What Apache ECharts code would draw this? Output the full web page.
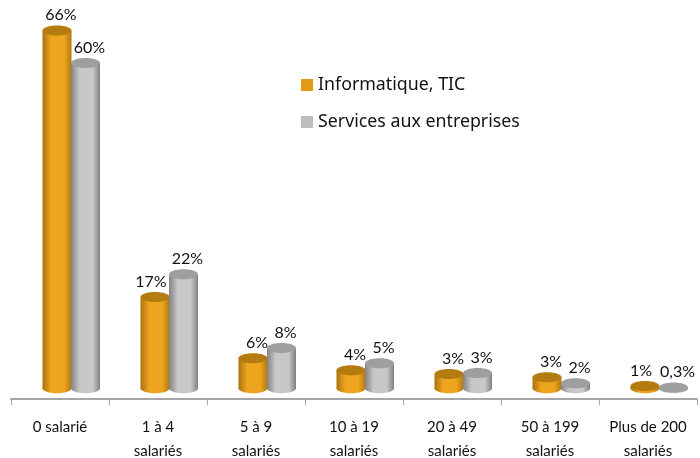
<!DOCTYPE html>
<html>
<head>
<meta charset="utf-8">
<style>
  html, body { margin: 0; padding: 0; background: #fff; }
  #chart { width: 700px; height: 458px; }
</style>
<script src="https://cdn.jsdelivr.net/npm/echarts@6/dist/echarts.min.js"></script>
</head>
<body>
<div id="chart"></div>
<script>
const categories = ['0 salarié', '1 à 4\nsalariés', '5 à 9\nsalariés', '10 à 19\nsalariés',
  '20 à 49\nsalariés', '50 à 199\nsalariés', 'Plus de 200\nsalariés'];
const seriesNames = ['Informatique, TIC', 'Services aux entreprises'];
// heights as drawn in the picture, the printed labels are rounded
const informatique = [66, 16.8, 5.5, 3.3, 2.6, 2, 0.4];
const services = [60, 21, 7.4, 4.6, 2.8, 0.9, 0.1];
const informatiqueLabels = ['66%', '17%', '6%', '4%', '3%', '3%', '1%'];
const servicesLabels = ['60%', '22%', '8%', '5%', '3%', '2%', '0,3%'];

const BAR_W = 29;
const RY = 5;

function cylinder(offset, labels, body, top) {
  return function (params, api) {
    const idx = api.value(0);
    const pTop = api.coord([idx, api.value(1)]);
    const pBase = api.coord([idx, 0]);
    const cx = pTop[0] + offset;
    const rx = BAR_W / 2;
    // the 17% and 1% labels sit left of their bars so they clear the grey ones
    const labelDx = labels === informatiqueLabels && (idx === 1 || idx === 6) ? -4 : 4;
    return {
      type: 'group',
      children: [
        { type: 'ellipse', shape: { cx: cx, cy: pBase[1], rx: rx, ry: RY }, style: { fill: body } },
        { type: 'rect', shape: { x: cx - rx, y: pTop[1], width: BAR_W, height: pBase[1] - pTop[1] }, style: { fill: body } },
        { type: 'ellipse', shape: { cx: cx, cy: pTop[1], rx: rx, ry: RY }, style: { fill: top } },
        {
          type: 'text',
          style: {
            x: cx + labelDx, y: pTop[1] - 15.5, text: labels[params.dataIndex],
            align: 'center', verticalAlign: 'middle',
            font: '16px Lato', fill: '#111'
          }
        }
      ]
    };
  };
}

function grad(a, b, c) {
  return new echarts.graphic.LinearGradient(0, 0, 1, 0, [
    { offset: 0, color: a }, { offset: 0.3, color: b }, { offset: 0.75, color: b }, { offset: 1, color: c }
  ]);
}

const chart = echarts.init(document.getElementById('chart'));
chart.setOption({
  animation: false,
  backgroundColor: '#fff',
  legend: {
    data: seriesNames,
    orient: 'vertical',
    left: 296,
    top: 71,
    icon: 'rect',
    itemWidth: 12,
    itemHeight: 12,
    itemGap: 19,
    textStyle: { fontFamily: 'Noto Sans', fontSize: 17.8, color: '#111' }
  },
  grid: { left: 11, width: 686, top: 12, bottom: 59, outerBoundsMode: 'none' },
  xAxis: {
    type: 'category',
    data: categories,
    axisLine: { onZero: false, lineStyle: { color: '#a6a6a6', width: 2 } },
    axisTick: { show: true, length: 6, lineStyle: { color: '#a6a6a6', width: 1 } },
    axisLabel: { interval: 0, margin: 16, fontFamily: 'Lato', fontSize: 15, lineHeight: 24, color: '#111' }
  },
  yAxis: { type: 'value', min: -2, max: 69.4, show: false },
  series: [
    {
      name: seriesNames[0],
      type: 'custom',
      itemStyle: { color: '#e39a17' },
      encode: { x: 0, y: 1 },
      data: informatique.map((v, i) => [i, v]),
      renderItem: cylinder(-3, informatiqueLabels, grad('#a9730f', '#eea41e', '#b27a10'), '#b47c10')
    },
    {
      name: seriesNames[1],
      type: 'custom',
      itemStyle: { color: '#bdbdbd' },
      encode: { x: 0, y: 1 },
      data: services.map((v, i) => [i, v]),
      renderItem: cylinder(25.5, servicesLabels, grad('#828282', '#c8c8c8', '#7f7f7f'), '#9f9f9f')
    }
  ]
});
</script>
</body>
</html>
